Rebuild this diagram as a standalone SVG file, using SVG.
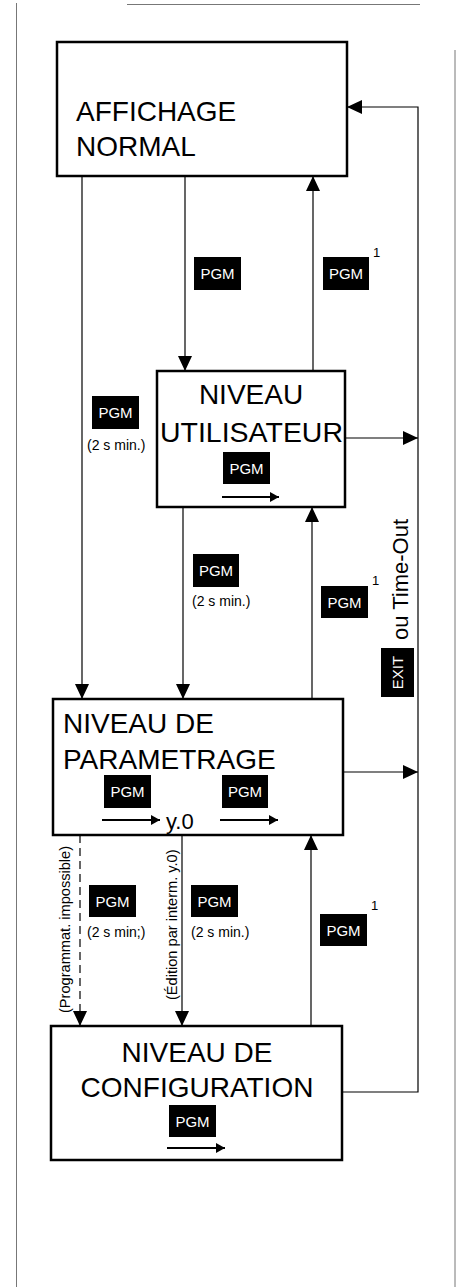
<svg xmlns="http://www.w3.org/2000/svg" width="461" height="1287" viewBox="0 0 461 1287">
<style>
.box{fill:#fff;stroke:#000;stroke-width:2.5}
.t{font-family:"Liberation Sans",Arial,sans-serif;fill:#000}
.big{font-size:28px}
.pgm{fill:#000}
.pt{font-family:"Liberation Sans",Arial,sans-serif;font-size:15px;fill:#fff;text-anchor:middle}
.sm{font-family:"Liberation Sans",Arial,sans-serif;font-size:14px;fill:#000}
.sup{font-family:"Liberation Sans",Arial,sans-serif;font-size:13px;fill:#000}
.c{fill:none;stroke:#000;stroke-width:1.2}
.ia{fill:none;stroke:#000;stroke-width:2}
.edge{fill:none;stroke:#777;stroke-width:1}
</style>
<defs>
<marker id="ah" markerUnits="userSpaceOnUse" markerWidth="16" markerHeight="14" refX="15" refY="7" orient="auto">
<path d="M0,0 L15,7 L0,14 Z" fill="#000"/>
</marker>
<marker id="sa" markerUnits="userSpaceOnUse" markerWidth="10" markerHeight="10" refX="9" refY="5" orient="auto">
<path d="M0,0 L9,5 L0,10 Z" fill="#000"/>
</marker>
</defs>

<g id="page-edges">
<line class="edge" x1="16.5" y1="3" x2="16.5" y2="1287"/>
<line class="edge" x1="455" y1="50" x2="455" y2="1287"/>
<line class="edge" x1="127" y1="4.5" x2="420" y2="4.5"/>
</g>

<g id="connectors">
<line class="c" x1="82" y1="176" x2="82" y2="699" marker-end="url(#ah)"/>
<line class="c" x1="185" y1="176" x2="185" y2="371" marker-end="url(#ah)"/>
<line class="c" x1="313" y1="371" x2="313" y2="176" marker-end="url(#ah)"/>
<line class="c" x1="183" y1="507" x2="183" y2="699" marker-end="url(#ah)"/>
<line class="c" x1="312" y1="699" x2="312" y2="507" marker-end="url(#ah)"/>
<line class="c" x1="80" y1="835" x2="80" y2="1026" stroke-dasharray="8,5" marker-end="url(#ah)"/>
<line class="c" x1="182" y1="835" x2="182" y2="1026" marker-end="url(#ah)"/>
<line class="c" x1="311" y1="1026" x2="311" y2="835" marker-end="url(#ah)"/>
<line class="c" x1="345" y1="438" x2="418" y2="438" marker-end="url(#ah)"/>
<line class="c" x1="343" y1="772" x2="418" y2="772" marker-end="url(#ah)"/>
<path class="c" d="M342,1092 H418 V107 H347" marker-end="url(#ah)"/>
</g>

<g id="labels">
<rect class="pgm" x="194" y="257" width="47" height="33"/>
<text class="pt" x="217.5" y="279">PGM</text>
<rect class="pgm" x="323" y="257" width="46" height="33"/>
<text class="pt" x="346" y="279">PGM</text>
<text class="sup" x="373" y="257">1</text>

<rect class="pgm" x="92" y="396" width="47" height="33"/>
<text class="pt" x="115.5" y="418">PGM</text>
<text class="sm" x="87" y="450">(2 s min.)</text>

<rect class="pgm" x="193" y="554" width="46" height="33"/>
<text class="pt" x="216" y="576">PGM</text>
<text class="sm" x="192" y="606">(2 s min.)</text>
<rect class="pgm" x="321" y="586" width="47" height="32"/>
<text class="pt" x="344.5" y="608">PGM</text>
<text class="sup" x="372" y="585">1</text>

<text class="t" font-size="22" transform="translate(408,640) rotate(-90)">ou Time-Out</text>
<rect class="pgm" x="381" y="648" width="33" height="49"/>
<text class="pt" font-size="14.5" transform="translate(403,672.5) rotate(-90)">EXIT</text>

<text class="t" font-size="14.6" transform="translate(70,1013) rotate(-90)">(Programmat. impossible)</text>
<text class="t" font-size="14.6" transform="translate(177,1000) rotate(-90)">(Édition par interm. y.0)</text>
<rect class="pgm" x="89" y="885" width="47" height="32"/>
<text class="pt" x="112.5" y="907">PGM</text>
<text class="sm" x="87" y="937">(2 s min;)</text>
<rect class="pgm" x="191" y="885" width="47" height="32"/>
<text class="pt" x="214.5" y="907">PGM</text>
<text class="sm" x="191" y="937">(2 s min.)</text>
<rect class="pgm" x="320" y="914" width="47" height="32"/>
<text class="pt" x="343.5" y="936">PGM</text>
<text class="sup" x="371" y="910">1</text>
</g>

<g id="affichage-normal">
<rect class="box" x="57" y="42" width="290" height="134"/>
<text class="t big" x="76" y="121">AFFICHAGE</text>
<text class="t big" x="76" y="156">NORMAL</text>
</g>

<g id="niveau-utilisateur">
<rect class="box" x="157" y="371" width="188" height="136"/>
<text class="t big" x="251" y="404" text-anchor="middle">NIVEAU</text>
<text class="t big" x="251.5" y="442" text-anchor="middle" textLength="183" lengthAdjust="spacingAndGlyphs">UTILISATEUR</text>
<rect class="pgm" x="223" y="452" width="47" height="32"/>
<text class="pt" x="246.5" y="474">PGM</text>
<line class="ia" x1="222" y1="497" x2="279" y2="497" marker-end="url(#sa)"/>
</g>

<g id="niveau-parametrage">
<rect class="box" x="53" y="699" width="290" height="136"/>
<text class="t big" x="63" y="733">NIVEAU DE</text>
<text class="t big" x="63" y="769">PARAMETRAGE</text>
<rect class="pgm" x="104" y="775" width="47" height="33"/>
<text class="pt" x="127.5" y="797">PGM</text>
<line class="ia" x1="102" y1="820" x2="160" y2="820" marker-end="url(#sa)"/>
<text class="t" font-size="22" x="166" y="829">y.0</text>
<rect class="pgm" x="222" y="775" width="46" height="33"/>
<text class="pt" x="245" y="797">PGM</text>
<line class="ia" x1="220" y1="820" x2="278" y2="820" marker-end="url(#sa)"/>
</g>

<g id="niveau-configuration">
<rect class="box" x="51" y="1026" width="291" height="134"/>
<text class="t big" x="197" y="1062" text-anchor="middle">NIVEAU DE</text>
<text class="t big" x="197" y="1097" text-anchor="middle">CONFIGURATION</text>
<rect class="pgm" x="169" y="1105" width="47" height="32"/>
<text class="pt" x="192.5" y="1127">PGM</text>
<line class="ia" x1="167" y1="1148" x2="225" y2="1148" marker-end="url(#sa)"/>
</g>
</svg>
